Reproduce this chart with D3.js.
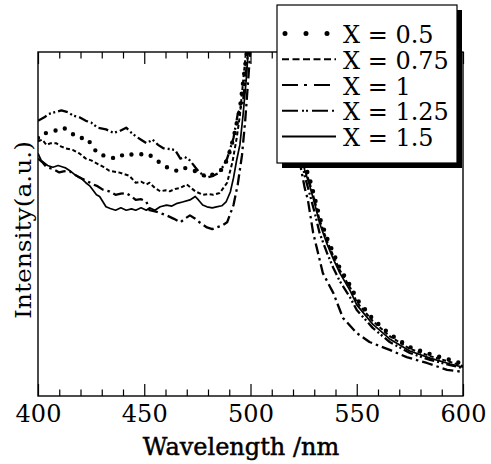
<!DOCTYPE html>
<html>
<head>
<meta charset="utf-8">
<script src="https://cdn.jsdelivr.net/npm/d3@7"></script>
<style>
  body { margin: 0; background: #fff; }
  svg { display: block; }
  text { font-family: "DejaVu Serif", "Liberation Serif", serif; fill: #000; }
</style>
</head>
<body>
<svg width="491" height="464"></svg>
<script>
const width = 491;
const height = 464;

// legend labels, same order as the series below
const seriesLabels = ["X = 0.5", "X = 0.75", "X = 1", "X = 1.25", "X = 1.5"];
const xTicks = [400, 450, 500, 550, 600];

// left branch (rising toward the excitation peak), per series
const nmLeft05 = [400, 401, 407.5, 412, 419, 423, 428, 433, 437, 441, 446, 451, 454, 458, 462, 465, 468, 476, 479.5, 484, 487, 489.5, 492, 495, 496.5, 498.5];
const iLeft05 = [75, 76, 77, 78, 75, 75, 70.5, 69.5, 69, 70.5, 70, 70.5, 69.5, 67.5, 66, 65.5, 66.5, 65, 63.5, 65, 66, 69.5, 75, 83.5, 91, 101];

const nmLeft075 = [400, 402, 404, 406, 408.5, 411, 413, 416.5, 419.5, 422.5, 425, 428, 431, 433.5, 438, 440.5, 443, 446, 448.5, 451, 452.5, 455, 457.5, 460, 462, 464.5, 467, 470, 472, 474, 477.5, 480, 482.5, 485.5, 489, 491.5, 493.5, 495, 498];
const iLeft075 = [74, 74.5, 73, 73.5, 73.5, 72.5, 72, 71.5, 70.5, 69, 68.5, 67.5, 66.5, 65.5, 65, 64.5, 64, 62, 62.3, 61.5, 62, 60.5, 59.5, 59.8, 59.5, 60.2, 60.5, 61.5, 60.5, 59.5, 58.5, 58.7, 58.5, 59, 62, 68, 75, 81.5, 101];

const nmLeft1 = [400, 402, 404, 407, 410, 412, 414.5, 417, 419.5, 423, 426, 428, 430.5, 433.5, 436.5, 439, 441.5, 444, 446, 448.5, 451, 452.5, 456, 460.5, 464, 467, 469, 471.5, 474, 476, 479.5, 482, 484, 486.5, 489, 492, 494, 496, 497.5, 500];
const iLeft1 = [69, 68, 66.5, 66, 65, 65.3, 65.5, 64.5, 63.5, 62.5, 61.5, 61, 60, 59.5, 58.5, 58.8, 59, 58, 57, 57.2, 56.5, 54, 53.5, 52.5, 51.5, 50.5, 51.5, 52.5, 51.5, 50.5, 49, 48.5, 49, 49.5, 50.5, 55.5, 61.5, 70, 80, 101];

const nmLeft125 = [400, 403, 405, 408, 411, 414, 416.5, 419.5, 422.5, 425, 428, 432, 435.5, 438.5, 441.5, 444, 446, 448.5, 451, 454, 456.5, 459, 462, 464.5, 467, 469, 471.5, 474, 476, 479.5, 482.5, 485.5, 489, 492, 494, 496.5, 499];
const iLeft125 = [80, 81, 82, 82.5, 83, 82.5, 81.5, 81, 80, 79.5, 78, 77.5, 76.5, 77, 78, 76.5, 75.5, 74.5, 73.5, 74.5, 73, 72, 71.8, 71.5, 69, 69.5, 68.5, 66.5, 65, 63.5, 64, 65, 69, 75, 82, 85.5, 101];

const nmLeft15 = [400, 401.5, 402.5, 404.5, 407, 409.5, 412, 413, 415, 418, 420, 422.5, 424.5, 427.5, 429, 432, 434, 436.5, 439, 441.5, 444, 446, 448.5, 451, 452.5, 455, 457.5, 460.5, 463, 465.5, 468, 471.5, 474, 475.5, 477.5, 479.5, 482, 484, 486.5, 488.5, 490.5, 492, 493.5, 495, 496.5, 498, 499];
const iLeft15 = [70.5, 68.5, 68, 67, 66.5, 67, 66.5, 66.3, 65.5, 64, 63.5, 62, 61, 58.5, 58, 55, 54.5, 54, 54.7, 54, 54.4, 54, 54.7, 54, 54.7, 54, 55, 55.5, 55.2, 56, 56.4, 57, 58, 57, 55.5, 55, 54.7, 55, 55.3, 56.4, 59.3, 63.4, 68.6, 73, 81.7, 92, 101];

// right branch (decay after the peak); X = 1 was read on its own grid
const nmRight = [520, 525.5, 528, 530.5, 532.5, 536, 539, 542, 547, 550, 557.5, 565.5, 575, 584.5, 594, 600];
const iRight05 = [85, 67.4, 62.8, 57, 52, 45.9, 41.6, 37.2, 32, 28.2, 22.4, 18, 14.2, 12.2, 10.5, 9.3];
const iRight075 = [84, 66.3, 61.6, 56.1, 51.2, 45.1, 40.7, 36.6, 31.4, 27.3, 21.8, 17.4, 13.7, 11.6, 9.9, 8.7];
const iRight125 = [82, 64, 58.4, 52.6, 47.4, 41.6, 37.2, 33.4, 28.5, 25, 19.8, 15.7, 12.5, 10.5, 9, 8.1];
const iRight15 = [84, 65.7, 60.8, 55.2, 50.3, 44.2, 39.8, 35.8, 30.5, 26.5, 20.9, 16.6, 13.1, 11, 9.3, 8.4];

const nmRight1 = [521, 525.5, 527, 529.5, 532, 534, 539, 543.5, 550, 556, 565.5, 573.5, 583, 592.5, 600];
const iRight1 = [75, 60.5, 57, 47.4, 41, 35.8, 29.9, 22.7, 18.3, 15.7, 13.4, 11.3, 9.6, 7.6, 7];

// line styles (width, dash, cap) for plot and legend sample
const lineStyles = [
  { w: 4.4, dash: "0 10", cap: "round", legendDash: "0 21" },
  { w: 2, dash: "4 2.5", cap: "butt", legendDash: "7 3.5" },
  { w: 2.3, dash: "11 4 2.5 4", cap: "butt", legendDash: "16 6 3 7" },
  { w: 2.3, dash: "10 3 2 2.5 2 3", cap: "butt", legendDash: "16 4 2 2 2 4" },
  { w: 1.7, dash: null, cap: "butt", legendDash: null }
];

// join left and right branch with a gap between them
function join(nmL, iL, nmR, iR) {
  const pts = nmL.map((d, i) => ({ nm: d, v: iL[i] }));
  pts.push({ nm: (nmL[nmL.length - 1] + nmR[0]) / 2, v: null });
  return pts.concat(nmR.map((d, i) => ({ nm: d, v: iR[i] })));
}

const seriesData = [
  join(nmLeft05, iLeft05, nmRight, iRight05),
  join(nmLeft075, iLeft075, nmRight, iRight075),
  join(nmLeft1, iLeft1, nmRight1, iRight1),
  join(nmLeft125, iLeft125, nmRight, iRight125),
  join(nmLeft15, iLeft15, nmRight, iRight15)
];

const margin = { left: 38, right: 28, top: 52, bottom: 68 };
const plotW = width - margin.left - margin.right;
const plotH = height - margin.top - margin.bottom;

const x = d3.scaleLinear().domain([400, 600]).range([margin.left, margin.left + plotW]);
const y = d3.scaleLinear().domain([0, 100]).range([margin.top + plotH, margin.top]);

const svg = d3.select("svg");

svg.append("defs").append("clipPath").attr("id", "plotClip")
  .append("rect")
  .attr("x", margin.left).attr("y", margin.top)
  .attr("width", plotW).attr("height", plotH);

// bottom axis, ticks pointing inward
const minorTicks = d3.range(400, 601, 10);
const bottomAxis = svg.append("g")
  .attr("transform", `translate(0,${margin.top + plotH})`)
  .call(d3.axisBottom(x).tickValues(minorTicks).tickSize(-12).tickPadding(9)
    .tickFormat(d => xTicks.includes(d) ? d : ""));
bottomAxis.select(".domain").remove();
bottomAxis.selectAll(".tick line")
  .attr("y2", d => xTicks.includes(d) ? -12 : -6.5)
  .attr("stroke-width", 1.2);
bottomAxis.selectAll(".tick text")
  .attr("font-size", 24)
  .attr("font-family", "'DejaVu Serif', serif");

// top axis, ticks only
const topAxis = svg.append("g")
  .attr("transform", `translate(0,${margin.top})`)
  .call(d3.axisTop(x).tickValues(minorTicks).tickSize(-12).tickFormat(""));
topAxis.select(".domain").remove();
topAxis.selectAll(".tick line")
  .attr("y2", d => xTicks.includes(d) ? 12 : 6.5)
  .attr("stroke-width", 1.2);

// frame
svg.append("rect")
  .attr("x", margin.left).attr("y", margin.top)
  .attr("width", plotW).attr("height", plotH)
  .attr("fill", "none").attr("stroke", "#000").attr("stroke-width", 1.4);

// curves
const line = d3.line()
  .defined(d => d.v !== null)
  .x(d => x(d.nm))
  .y(d => y(d.v));

const curves = svg.append("g").attr("clip-path", "url(#plotClip)");
seriesData.forEach((data, i) => {
  const st = lineStyles[i];
  curves.append("path")
    .datum(data)
    .attr("d", line)
    .attr("fill", "none")
    .attr("stroke", "#000")
    .attr("stroke-width", st.w)
    .attr("stroke-linecap", st.cap)
    .attr("stroke-linejoin", "round")
    .attr("stroke-dasharray", st.dash);
});

// axis titles
svg.append("text")
  .attr("x", 241).attr("y", 455)
  .attr("text-anchor", "middle")
  .attr("font-size", 24)
  .attr("stroke", "#000").attr("stroke-width", 0.5)
  .text("Wavelength /nm");

svg.append("text")
  .attr("transform", "translate(31,230) rotate(-90)")
  .attr("text-anchor", "middle")
  .attr("font-size", 22)
  .attr("textLength", 178)
  .attr("lengthAdjust", "spacingAndGlyphs")
  .text("Intensity(a.u.)");

// legend box with drop shadow
const legend = svg.append("g");
legend.append("rect")
  .attr("x", 282).attr("y", 10).attr("width", 180).attr("height", 158)
  .attr("fill", "#000");
legend.append("rect")
  .attr("x", 277).attr("y", 5).attr("width", 180).attr("height", 158)
  .attr("fill", "#fff").attr("stroke", "#000").attr("stroke-width", 1.2);

const rowY = d3.scalePoint().domain(seriesLabels).range([43, 146]);
seriesLabels.forEach((label, i) => {
  const st = lineStyles[i];
  const by = rowY(label);
  legend.append("line")
    .attr("x1", i === 0 ? 285 : 282).attr("x2", 336)
    .attr("y1", by - 9.5).attr("y2", by - 9.5)
    .attr("stroke", "#000")
    .attr("stroke-width", i === 0 ? 5 : 2)
    .attr("stroke-linecap", st.cap)
    .attr("stroke-dasharray", st.legendDash);
  legend.append("text")
    .attr("x", 343).attr("y", by)
    .attr("font-size", 24)
    .text(label);
});
</script>
</body>
</html>
